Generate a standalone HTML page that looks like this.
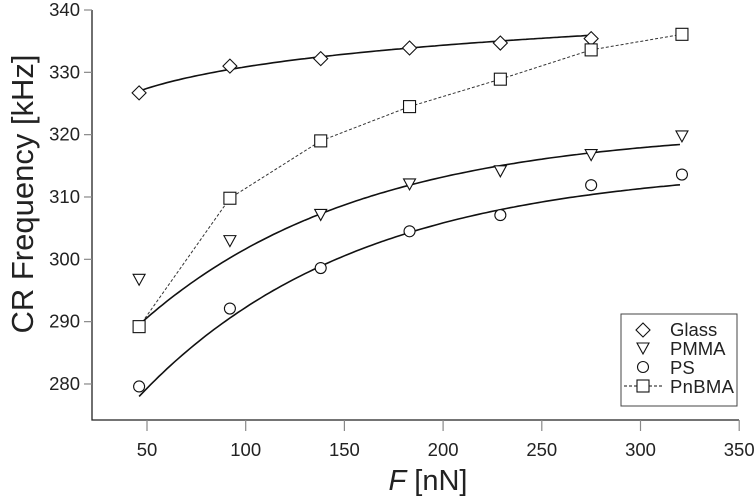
<!DOCTYPE html>
<html><head><style>body{margin:0;background:#fff}svg{display:block}text{font-family:"Liberation Sans",sans-serif;fill:#222}</style></head>
<body>
<svg id="s" width="756" height="500" viewBox="0 0 756 500" xmlns="http://www.w3.org/2000/svg">
<g stroke="#222" stroke-width="1.3" fill="none">
<path d="M92 10 V420 H739"/>
</g>
<g id="ticks" stroke="#888" stroke-width="1.2"></g>
<g id="tl" font-size="18.5"></g>
<text x="0" y="0" font-size="31" text-anchor="middle" transform="translate(33,194) rotate(-90)">CR Frequency [kHz]</text>
<text x="428" y="490" font-size="29" text-anchor="middle"><tspan font-style="italic">F</tspan> [nN]</text>
<g id="plot" fill="none" stroke="#111"></g>
<g>
<rect x="621" y="314" width="116" height="92" fill="#fff" stroke="#444" stroke-width="1"/>
<text x="670" y="336" font-size="18.5">Glass</text>
<text x="670" y="355" font-size="18.5">PMMA</text>
<text x="670" y="374" font-size="18.5">PS</text>
<text x="670" y="393" font-size="18.5" textLength="64">PnBMA</text>
<g id="leg" fill="#fff" stroke="#111" stroke-width="1.1"></g>
</g>
</svg>
<script>
const X=f=>147+(f-50)*1.974, Y=v=>10+(340-v)*6.233;
const NS="http://www.w3.org/2000/svg";
function el(p,t,a){const e=document.createElementNS(NS,t);for(const k in a)e.setAttribute(k,a[k]);p.appendChild(e);return e;}
const tk=document.getElementById('ticks'),tl=document.getElementById('tl');
for(let v=280;v<=340;v+=10){el(tk,'line',{x1:84,x2:92,y1:Y(v),y2:Y(v)});const t=el(tl,'text',{x:80,y:Y(v)+6,'text-anchor':'end'});t.textContent=v;}
for(let f=50;f<=350;f+=50){el(tk,'line',{x1:X(f),x2:X(f),y1:420,y2:431});const t=el(tl,'text',{x:X(f),y:456,'text-anchor':'middle'});t.textContent=f;}
const P=document.getElementById('plot');
function curve(fn,a,b){let d='';for(let f=a;f<=b;f+=2)d+=(d?'L':'M')+X(f).toFixed(1)+' '+Y(fn(f)).toFixed(1);el(P,'path',{d,'stroke-width':1.6});}
curve(f=>327+5*Math.log(f/46),46,275);
const tau=111;
curve(f=>321.1-31.6*Math.exp(-(f-46)/tau),46,321);
curve(f=>315.1-37.1*Math.exp(-(f-46)/tau),46,321);
const F=[46,92,138,183,229,275,321];
const G=[326.7,331,332.2,333.9,334.7,335.4],
PM=[296.8,303,307.2,312.1,314.2,316.8,319.8],
PS=[279.6,292.1,298.6,304.5,307.1,311.9,313.6],
PB=[289.2,309.8,319,324.5,328.9,333.6,336.1];
el(P,'path',{d:PB.map((v,i)=>(i?'L':'M')+X(F[i])+' '+Y(v)).join(''),'stroke-width':1,'stroke-dasharray':'3 2',stroke:'#333'});
function dia(g,x,y){el(g,'path',{d:`M${x} ${y-7}L${x+7} ${y}L${x} ${y+7}L${x-7} ${y}Z`,fill:'#fff','stroke-width':1.1});}
function tri(g,x,y){el(g,'path',{d:`M${x-6} ${y-5}L${x+6} ${y-5}L${x} ${y+6}Z`,fill:'#fff','stroke-width':1.1});}
function cir(g,x,y){el(g,'circle',{cx:x,cy:y,r:5.5,fill:'#fff','stroke-width':1.1});}
function sq(g,x,y){el(g,'rect',{x:x-6,y:y-6,width:12,height:12,fill:'#fff','stroke-width':1.1});}
G.forEach((v,i)=>dia(P,X(F[i]),Y(v)));
PM.forEach((v,i)=>tri(P,X(F[i]),Y(v)));
PS.forEach((v,i)=>cir(P,X(F[i]),Y(v)));
PB.forEach((v,i)=>sq(P,X(F[i]),Y(v)));
const L=document.getElementById('leg');
dia(L,643,330);tri(L,643,348);cir(L,643,367);
el(L,'line',{x1:624,x2:662,y1:386,y2:386,'stroke-dasharray':'3 2','stroke-width':1});
sq(L,643,386);
</script>
</body></html>
